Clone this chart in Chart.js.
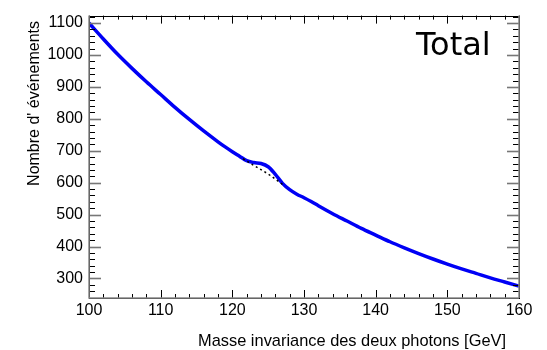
<!DOCTYPE html>
<html>
<head>
<meta charset="utf-8">
<script src="https://cdn.jsdelivr.net/npm/chart.js@4/dist/chart.umd.min.js"></script>
<style>
html,body{margin:0;padding:0;background:#fff;}
#c{display:block;}
</style>
</head>
<body>
<canvas id="c" width="547" height="350"></canvas>
<script>
// ---- data ----
const massGeV = [100,102,104,106,108,110,112,114,116,118,119,120,121,122,123,124,125,126,127,128,129,130,131,132,134,136,138,140,142,144,146,148,150,152,154,156,158,160];
const totalEvents = [1100,1050,1002,958,916,876,836,798,762,728,712,697,683,669,663,660,650,626,598,578,564,553,541,528,503,480,457,436,415,396,378,361,345,330,316,302,289,276];
const bkgMass = [121.5,123,125,127.3];
const bkgEvents = [675,654,627,590];
const xTickLabels = [100,110,120,130,140,150,160];
const yTickLabels = [300,400,500,600,700,800,900,1000,1100];
const xTitle = "Masse invariance des deux photons [GeV]";
const yTitle = "Nombre d' événements";
const panelLabel = "Total";

const FONT = "'Liberation Sans', Arial, sans-serif";

const framePlugin = {
  id: 'frame',
  afterDraw(chart) {
    const {ctx, chartArea: a, scales: {x, y}} = chart;
    ctx.save();
    const tick = (x1, y1, x2, y2, col, w) => {
      ctx.strokeStyle = col; ctx.lineWidth = w;
      ctx.beginPath(); ctx.moveTo(x1, y1); ctx.lineTo(x2, y2); ctx.stroke();
    };
    for (let v = 100; v <= 160; v += 2) {
      const px = Math.round(x.getPixelForValue(v)) + 0.5;
      const major = xTickLabels.includes(v);
      const L = major ? 8 : 4;
      tick(px, a.bottom, px, a.bottom - L, '#000', 1);
      tick(px, a.top, px, a.top + L, '#000', 1);
    }
    for (let v = 240; v <= 1120; v += 20) {
      const py = Math.round(y.getPixelForValue(v)) + 0.5;
      if (py < a.top || py > a.bottom) continue;
      const major = yTickLabels.includes(v);
      const L = major ? 12 : 6;
      tick(a.left, py, a.left + L, py, major ? '#777' : '#000', major ? 1.6 : 1);
      tick(a.right, py, a.right - L, py, major ? '#777' : '#000', major ? 1.6 : 1);
    }
    ctx.strokeStyle = '#000'; ctx.lineWidth = 1;
    ctx.strokeRect(Math.round(a.left) + 0.5, Math.round(a.top) + 0.5,
                   Math.round(a.right - a.left), Math.round(a.bottom - a.top));
    ctx.strokeStyle = '#888'; ctx.lineWidth = 1.5;
    ctx.beginPath(); ctx.moveTo(a.left, a.top); ctx.lineTo(a.left, a.bottom); ctx.lineTo(a.right, a.bottom);
    ctx.moveTo(a.right, a.top); ctx.lineTo(a.right, a.bottom); ctx.stroke();

    ctx.fillStyle = '#000';
    ctx.font = "16.4px " + FONT;
    ctx.textAlign = 'right'; ctx.textBaseline = 'alphabetic';
    ctx.fillText(xTitle, 506, 346);
    ctx.save();
    ctx.font = "16px " + FONT;
    ctx.translate(39, 21);
    ctx.rotate(-Math.PI / 2);
    ctx.textAlign = 'right';
    ctx.fillText(yTitle, 0, 0);
    ctx.restore();

    ctx.font = "32px 'DejaVu Sans', sans-serif";
    ctx.textAlign = 'left'; ctx.textBaseline = 'alphabetic';
    ctx.fillText(panelLabel, 416, 55);
    ctx.restore();
  }
};

new Chart(document.getElementById('c'), {
  type: 'line',
  data: {
    datasets: [
      {
        label: 'total',
        data: massGeV.map((m, i) => ({x: m, y: totalEvents[i]})),
        borderColor: 'rgb(0,0,245)',
        borderWidth: 3.5,
        pointRadius: 0,
        cubicInterpolationMode: 'monotone',
        fill: false,
        order: 2
      },
      {
        label: 'bkg',
        data: bkgMass.map((m, i) => ({x: m, y: bkgEvents[i]})),
        borderColor: '#000',
        borderWidth: 1.5,
        borderDash: [2, 3],
        pointRadius: 0,
        cubicInterpolationMode: 'monotone',
        fill: false,
        order: 1
      }
    ]
  },
  options: {
    responsive: false,
    devicePixelRatio: 1,
    animation: false,
    layout: {padding: {top: 13, right: 28, left: 0, bottom: 0}},
    plugins: {legend: {display: false}, tooltip: {enabled: false}},
    scales: {
      x: {
        type: 'linear', min: 100, max: 160,
        grid: {display: false, drawTicks: false},
        border: {display: false},
        ticks: {color: '#000', font: {family: FONT, size: 16}, padding: 3,
                callback: v => String(v)},
        afterBuildTicks: s => { s.ticks = xTickLabels.map(v => ({value: v})); },
        afterFit: s => { s.height = 52; }
      },
      y: {
        type: 'linear', min: 238.9, max: 1123.3,
        grid: {display: false, drawTicks: false},
        border: {display: false},
        ticks: {color: '#000', font: {family: FONT, size: 16}, padding: 6,
                callback: v => String(v)},
        afterBuildTicks: s => { s.ticks = yTickLabels.map(v => ({value: v})); },
        afterFit: s => { s.width = 89; }
      }
    }
  },
  plugins: [framePlugin]
});
</script>
</body>
</html>
